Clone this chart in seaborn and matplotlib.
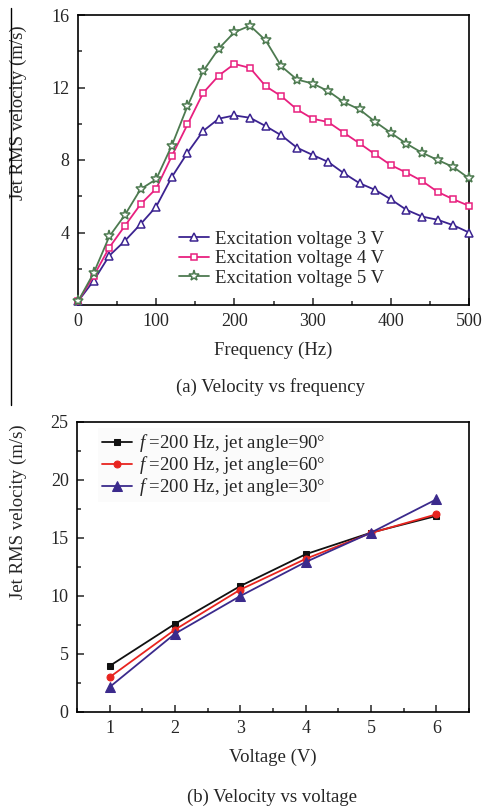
import numpy as np
import pandas as pd
import matplotlib
matplotlib.use("Agg")
import matplotlib.pyplot as plt
from matplotlib.lines import Line2D
from matplotlib.ticker import MultipleLocator
import seaborn as sns

# --- data ---
freq = [0, 20, 40, 60, 80, 100, 120, 140, 160, 180, 200, 220, 240, 260, 280,
        300, 320, 340, 360, 380, 400, 420, 440, 460, 480, 500]
vel_3v = [0.2, 1.34, 2.72, 3.54, 4.46, 5.43, 7.06, 8.4, 9.6, 10.28, 10.46, 10.33,
          9.87, 9.36, 8.68, 8.28, 7.89, 7.27, 6.72, 6.35, 5.83, 5.25, 4.88, 4.7, 4.4, 4.0]
vel_4v = [0.2, 1.6, 3.17, 4.37, 5.56, 6.42, 8.22, 9.96, 11.7, 12.66, 13.3, 13.08,
          12.07, 11.52, 10.79, 10.28, 10.09, 9.5, 8.92, 8.31, 7.72, 7.3, 6.84, 6.24, 5.83, 5.47]
vel_5v = [0.2, 1.76, 3.78, 4.97, 6.39, 6.94, 8.8, 10.97, 12.9, 14.15, 15.05, 15.41,
          14.6, 13.17, 12.44, 12.22, 11.8, 11.19, 10.79, 10.11, 9.5, 8.9, 8.4, 8.0, 7.61, 6.99]
freq_labels = ["Excitation voltage 3 V", "Excitation voltage 4 V", "Excitation voltage 5 V"]

voltage = [1, 2, 3, 4, 5, 6]
vel_90 = [3.97, 7.6, 10.86, 13.6, 15.46, 16.9]
vel_60 = [3.0, 7.1, 10.55, 13.2, 15.43, 17.04]
vel_30 = [2.15, 6.75, 10.0, 12.93, 15.46, 18.33]
angle_labels = ["$f$ =200 Hz, jet angle=90°", "$f$ =200 Hz, jet angle=60°",
                "$f$ =200 Hz, jet angle=30°"]

sns.set_theme(style="ticks")
plt.rcParams["font.family"] = ["Liberation Serif", "DejaVu Serif"]
plt.rcParams["mathtext.fontset"] = "custom"
plt.rcParams["mathtext.rm"] = "Liberation Serif"
plt.rcParams["mathtext.it"] = "Liberation Serif:italic"
plt.rcParams["axes.linewidth"] = 1.2

FS = 13.5      # labels, legends, captions
TFS = 13       # tick labels
fig = plt.figure(figsize=(4.84, 8.08), dpi=100)
W, H = 484.0, 808.0

def place(l, t, r, b):
    return [l / W, 1 - b / H, (r - l) / W, (b - t) / H]

ax1 = fig.add_axes(place(78, 15, 469, 305))
ax2 = fig.add_axes(place(77, 422, 469, 712))

# ---- panel (a) ----
series_a = [(vel_3v, "#3b2390", "^", 6.0), (vel_4v, "#e8207f", "s", 4.3),
            (vel_5v, "#4d7a50", "*", 8.0)]
for (vals, col, mk, ms), lab in zip(series_a, freq_labels):
    sns.lineplot(x=freq, y=vals, ax=ax1, color=col, marker=mk, lw=1.3,
                 markersize=ms, mfc="white", mec=col, mew=1.1,
                 label=lab, clip_on=False, zorder=3)
ax1.set_xlim(0, 500)
ax1.set_ylim(0, 16)
ax1.xaxis.set_major_locator(MultipleLocator(100))
ax1.xaxis.set_minor_locator(MultipleLocator(50))
ax1.yaxis.set_minor_locator(MultipleLocator(2))
ax1.set_yticks([4, 8, 12, 16])
ax1.set_xlabel("Frequency (Hz)", fontsize=FS, labelpad=8)
ax1.set_ylabel("Jet RMS velocity (m/s)", fontsize=FS)
ax1.yaxis.set_label_coords(-0.130, 0.662)
ax1.legend(loc="center left", bbox_to_anchor=(0.225, 0.16), frameon=False,
           fontsize=FS, handlelength=1.6, handletextpad=0.3, labelspacing=0.12,
           borderpad=0.2)

# ---- panel (b) ----
series_b = [(vel_90, "#111111", "s", 4.5), (vel_60, "#e8241f", "o", 5.0),
            (vel_30, "#3b2a8c", "^", 6.5)]
for (vals, col, mk, ms), lab in zip(series_b, angle_labels):
    sns.lineplot(x=voltage, y=vals, ax=ax2, color=col, marker=mk, lw=1.3,
                 markersize=ms, mec=col, mfc=col, label=lab, zorder=3)
ax2.set_xlim(0.5, 6.5)
ax2.set_ylim(0, 25)
ax2.xaxis.set_major_locator(MultipleLocator(1))
ax2.xaxis.set_minor_locator(MultipleLocator(0.5))
ax2.yaxis.set_major_locator(MultipleLocator(5))
ax2.yaxis.set_minor_locator(MultipleLocator(2.5))
ax2.set_xlabel("Voltage (V)", fontsize=FS, labelpad=8)
ax2.set_ylabel("Jet RMS velocity (m/s)", fontsize=FS)
ax2.yaxis.set_label_coords(-0.128, 0.692)
leg = ax2.legend(loc="upper left", bbox_to_anchor=(0.03, 1.01), frameon=True,
                 fontsize=FS, handlelength=1.6, handletextpad=0.4, labelspacing=0.0,
                 borderpad=0.2, fancybox=False)
leg.get_frame().set_edgecolor("none")
leg.get_frame().set_facecolor("#fbfbfb")

for ax in (ax1, ax2):
    ax.tick_params(which="both", direction="in", top=False, right=False,
                   labelsize=TFS, width=1.1, pad=6)
    ax.tick_params(which="major", length=5)
    ax.tick_params(which="minor", length=3)
    for s in ax.spines.values():
        s.set_visible(True)
        s.set_color("black")

fig.text(271 / W, 1 - 387 / H, "(a) Velocity vs frequency", ha="center", va="center", fontsize=FS)
fig.text(272 / W, 1 - 797 / H, "(b) Velocity vs voltage", ha="center", va="center", fontsize=FS)

# frame line remnant on the left edge
fig.add_artist(Line2D([11 / W, 11 / W], [1 - 8 / H, 1 - 405 / H], color="black", lw=1.0))

fig.savefig("out.png", dpi=100)
